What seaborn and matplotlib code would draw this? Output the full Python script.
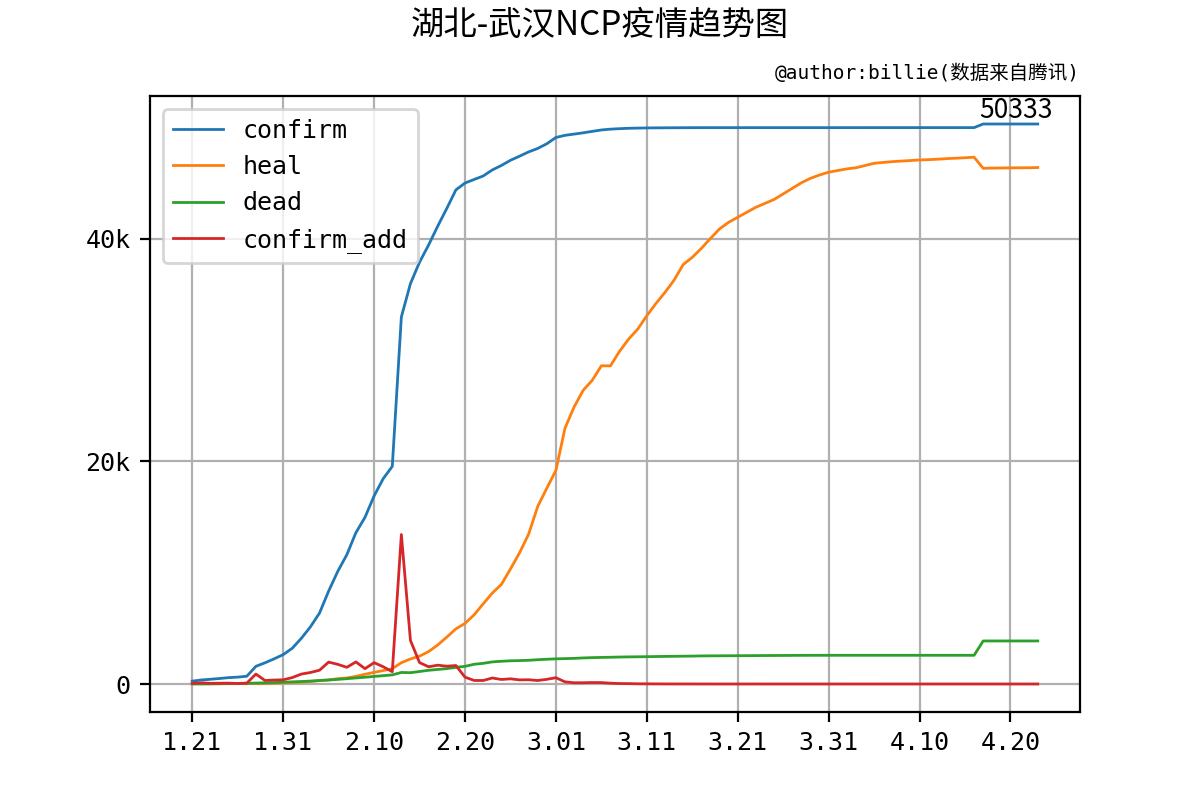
import matplotlib
matplotlib.use("Agg")
import matplotlib.pyplot as plt
import seaborn as sns
import pandas as pd
import numpy as np

# ---- data ----
months = [1] * 11 + [2] * 29 + [3] * 31 + [4] * 23
days = list(range(21, 32)) + list(range(1, 30)) + list(range(1, 32)) + list(range(1, 24))
dates = ["%d.%02d" % (m, d) for m, d in zip(months, days)]

confirm = [258, 363, 425, 495, 572, 618, 698, 1590, 1905, 2261,
           2639, 3215, 4109, 5142, 6384, 8351, 10117, 11618, 13603, 14982,
           16902, 18454, 19558, 32994, 35991, 37914, 39462, 41152, 42752, 44412,
           45027, 45346, 45660, 46201, 46607, 47071, 47441, 47824, 48137, 48557,
           49122, 49315, 49426, 49540, 49671, 49797, 49871, 49912, 49948, 49965,
           49978, 49986, 49991, 49995, 49999, 50003, 50004, 50005, 50005, 50005,
           50005, 50005, 50006, 50006, 50006, 50006, 50006, 50006, 50006, 50006,
           50006, 50006, 50007, 50007, 50008, 50008, 50008, 50008, 50008, 50008,
           50008, 50008, 50008, 50008, 50008, 50008, 50008, 50333, 50333, 50333,
           50333, 50333, 50333, 50333]

heal = [25, 25, 28, 31, 32, 40, 42, 47, 54, 76,
        103, 139, 171, 224, 303, 362, 478, 544, 684, 877,
        1044, 1206, 1378, 1915, 2250, 2502, 2915, 3507, 4219, 4957,
        5448, 6214, 7206, 8171, 8946, 10337, 11793, 13472, 15962, 17600,
        19200, 23000, 24900, 26400, 27300, 28600, 28600, 29900, 31000, 31900,
        33100, 34200, 35200, 36300, 37700, 38350, 39150, 40050, 40900, 41500,
        41950, 42400, 42850, 43200, 43550, 44050, 44550, 45050, 45450, 45750,
        46000, 46150, 46300, 46400, 46600, 46800, 46880, 46950, 47000, 47050,
        47100, 47130, 47170, 47220, 47260, 47300, 47350, 46350, 46370, 46380,
        46390, 46400, 46400, 46420]

dead = [6, 9, 17, 23, 38, 45, 63, 85, 104, 129,
        159, 192, 224, 265, 313, 362, 414, 478, 545, 608,
        681, 748, 820, 1036, 1016, 1123, 1233, 1309, 1381, 1497,
        1585, 1774, 1856, 1987, 2043, 2085, 2104, 2132, 2184, 2226,
        2260, 2282, 2305, 2343, 2370, 2388, 2404, 2423, 2436, 2446,
        2456, 2469, 2480, 2490, 2498, 2508, 2524, 2531, 2535, 2538,
        2543, 2547, 2553, 2559, 2562, 2566, 2571, 2576, 2577, 2579,
        2579, 2580, 2580, 2580, 2580, 2580, 2580, 2580, 2580, 2580,
        2580, 2580, 2580, 2580, 2580, 2580, 2580, 3869, 3869, 3869,
        3869, 3869, 3869, 3869]

confirm_add = [60, 105, 62, 70, 77, 46, 80, 892, 315, 356,
               378, 576, 894, 1033, 1242, 1967, 1766, 1501, 1985, 1379,
               1920, 1552, 1104, 13436, 3910, 1923, 1548, 1690, 1600, 1660,
               615, 319, 314, 541, 406, 464, 370, 383, 313, 420,
               565, 193, 111, 114, 131, 126, 74, 41, 36, 17,
               13, 8, 5, 4, 4, 4, 1, 1, 0, 0,
               0, 0, 1, 0, 0, 0, 0, 0, 0, 0,
               0, 0, 1, 0, 1, 0, 0, 0, 0, 0,
               0, 0, 0, 0, 0, 0, 0, 0, 0, 0,
               0, 0, 0, 0]

series_names = ["confirm", "heal", "dead", "confirm_add"]
tick_labels = ["1.21", "1.31", "2.10", "2.20", "3.01", "3.11", "3.21", "3.31", "4.10", "4.20"]
title = "湖北-武汉NCP疫情趋势图"
author = "@author:billie(数据来自腾讯)"
final_label = "50333"

# ---- plotting ----
plt.rcParams["font.family"] = ["DejaVu Sans Mono", "Noto Sans CJK SC"]
plt.rcParams["axes.unicode_minus"] = False

df = pd.DataFrame({"idx": np.arange(len(dates)), "date": dates,
                   "confirm": confirm, "heal": heal, "dead": dead,
                   "confirm_add": confirm_add})

fig, ax = plt.subplots(figsize=(6, 4), dpi=200)
colors = ["#1f77b4", "#ff7f0e", "#2ca02c", "#d62728"]
for name, c in zip(series_names, colors):
    sns.lineplot(data=df, x="idx", y=name, ax=ax, color=c, lw=1.0, label=name)

tick_pos = [dates.index(t) for t in tick_labels]
ax.set_xticks(tick_pos)
ax.set_xticklabels(tick_labels, fontsize=9)
ax.set_yticks([0, 20000, 40000])
ax.set_yticklabels(["0", "20k", "40k"], fontsize=9)
ax.set_xlabel("")
ax.set_ylabel("")
ax.grid(True)
ax.legend(loc="upper left", fontsize=9)

last = len(dates) - 1
ax.text(last - 2.4, confirm[-1] + 20, final_label, ha="center", va="bottom",
        fontsize=9.5, family=["Noto Sans CJK SC"])
ax.set_title(author, loc="right", fontsize=7, family=["DejaVu Sans Mono", "Noto Sans CJK SC"])
fig.suptitle(title, fontsize=12, y=0.99, family=["Noto Sans CJK SC"])

fig.savefig("out.png", dpi=200)
